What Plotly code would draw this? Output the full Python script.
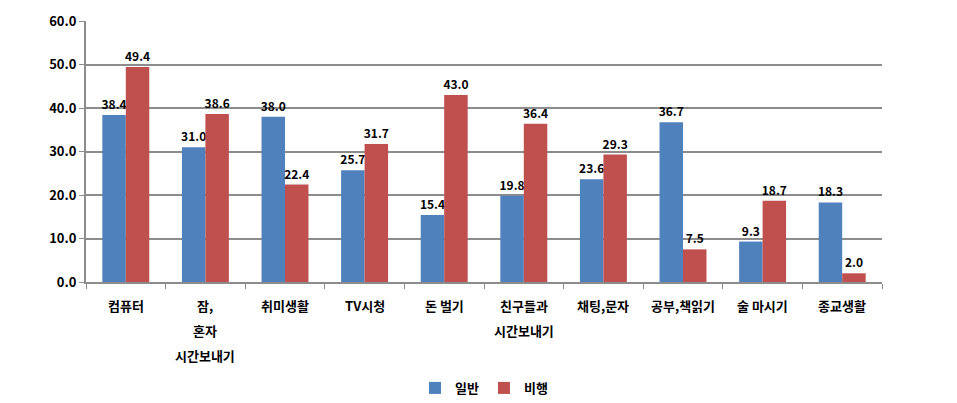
import plotly.graph_objects as go

categories = ["컴퓨터", "잠,<br>혼자<br>시간보내기", "취미생활", "TV시청", "돈 벌기",
              "친구들과<br>시간보내기", "채팅,문자", "공부,책읽기", "술 마시기", "종교생활"]
general = [38.4, 31.0, 38.0, 25.7, 15.4, 19.8, 23.6, 36.7, 9.3, 18.3]
delinquent = [49.4, 38.6, 22.4, 31.7, 43.0, 36.4, 29.3, 7.5, 18.7, 2.0]
series_names = ["일반", "비행"]
colors = ["#4F81BD", "#C0504D"]

font_family = "Noto Sans CJK KR, Malgun Gothic, sans-serif"

fig = go.Figure()
for name, vals, col in zip(series_names, [general, delinquent], colors):
    fig.add_trace(go.Bar(
        x=categories, y=vals, name=name, marker_color=col,
        marker_line_width=0,
        text=[f"<b>{v:.1f}</b>" for v in vals], textposition="outside",
        textfont=dict(size=12, color="black", family=font_family),
        constraintext="none", cliponaxis=False,
    ))

# category labels drawn line by line for wider line spacing
for cat in categories:
    for i, line in enumerate(cat.split("<br>")):
        fig.add_annotation(
            x=cat, xref="x", y=0, yref="paper", yanchor="middle",
            yshift=-23 - 25 * i, text=f"<b>{line}</b>", showarrow=False,
            font=dict(size=13, family=font_family, color="black"),
        )

fig.update_layout(
    width=957, height=403,
    margin=dict(l=86, r=75, t=21, b=121, autoexpand=False),
    barmode="group", bargap=0.41, bargroupgap=0,
    plot_bgcolor="white", paper_bgcolor="white",
    font=dict(family=font_family, size=13, color="black"),
    showlegend=True,
    legend=dict(orientation="h", x=0.5, xanchor="center", y=-0.406, yanchor="middle",
                font=dict(size=13, family=font_family, weight="bold"), itemwidth=30,
                traceorder="normal"),
)
fig.update_xaxes(
    showline=True, linecolor="#8C8C8C", linewidth=2,
    ticks="outside", tickson="boundaries", ticklen=5, tickcolor="#8C8C8C", tickwidth=1,
    showticklabels=False, automargin=False,
)
fig.update_yaxes(
    range=[0, 60], dtick=10, tickformat=".1f",
    showline=True, linecolor="#8C8C8C", linewidth=2,
    showgrid=True, gridcolor="#8C8C8C", gridwidth=1.5,
    ticks="outside", ticklen=5, tickcolor="#8C8C8C",
    tickfont=dict(size=13, family=font_family, weight="bold"),
    zeroline=False, automargin=False,
)
fig.write_html("out.html")
